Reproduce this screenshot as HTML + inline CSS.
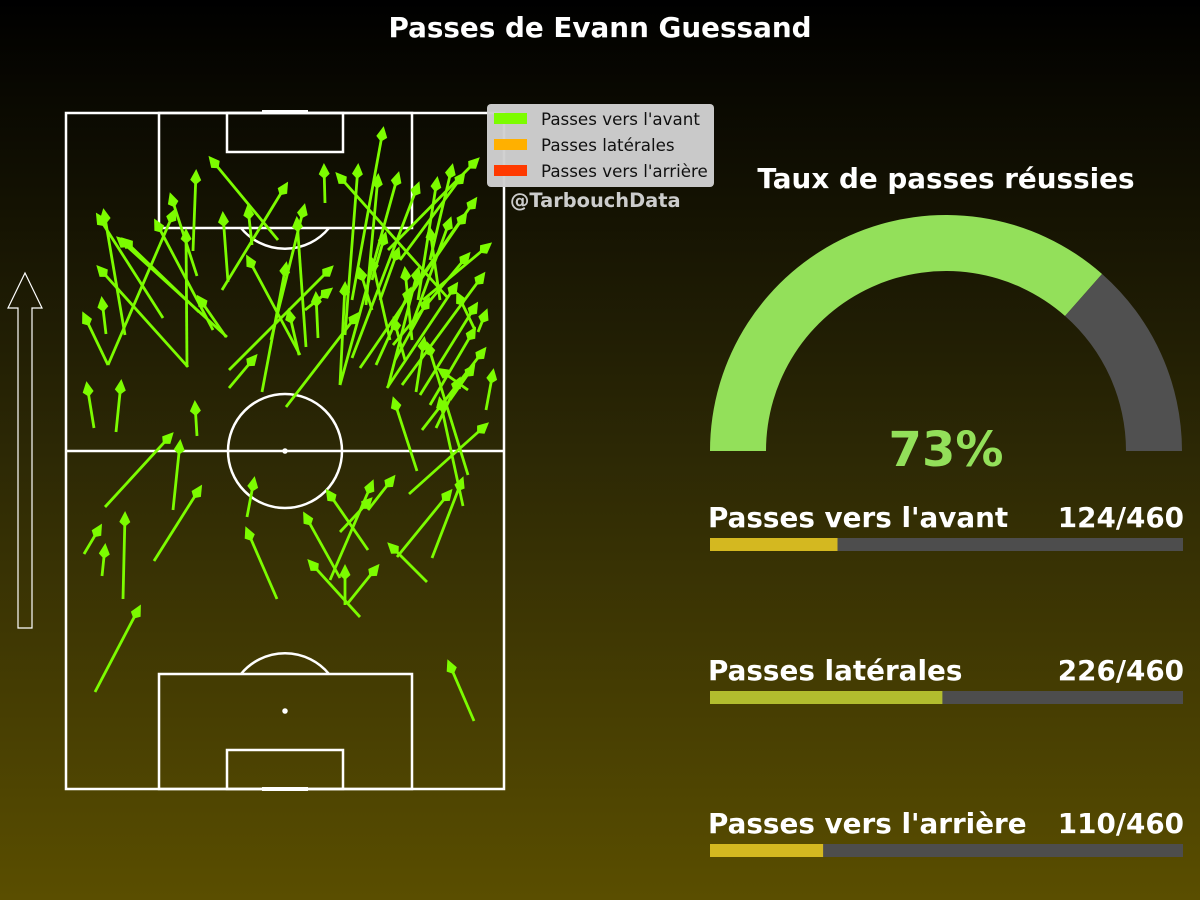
<!DOCTYPE html>
<html><head><meta charset="utf-8">
<style>
html,body{margin:0;padding:0;}
body{width:1200px;height:900px;overflow:hidden;background:linear-gradient(to bottom,#000000 0%,#2c2805 50%,#5a4e00 100%);font-family:"DejaVu Sans","Liberation Sans",sans-serif;}
svg{position:absolute;left:0;top:0;}
</style></head>
<body>
<svg id="chart" width="1200" height="900" viewBox="0 0 1200 900">
  <text x="600" y="37" text-anchor="middle" fill="#fff" font-size="27.8" font-weight="bold">Passes de Evann Guessand</text>
  <g id="pitch" fill="none" stroke="#fff" stroke-width="2.5">
    <rect x="66" y="113" width="438" height="676"/>
    <line x1="66" y1="451" x2="504" y2="451"/>
    <circle cx="285" cy="451" r="57"/>
    <circle cx="285" cy="451" r="1.5" fill="#fff"/>
    <rect x="159" y="113" width="253" height="115"/>
    <rect x="227" y="113" width="116" height="39"/>
    <path d="M241,228 A57,57 0 0 0 329,228"/>
    <line x1="262" y1="112" x2="308" y2="112" stroke-width="4"/>
    <rect x="159" y="674" width="253" height="115"/>
    <rect x="227" y="750" width="116" height="39"/>
    <path d="M241,674 A57,57 0 0 1 329,674"/>
    <circle cx="285" cy="711" r="1.5" fill="#fff"/>
    <line x1="262" y1="789" x2="308" y2="789" stroke-width="4"/>
  </g>
  <polygon points="25,273 42,308 32,308 32,628 18,628 18,308 8,308" fill="none" stroke="#fff" stroke-width="1.2"/>
  <g id="arrows"></g>
  <g>
    <rect x="487" y="104" width="227" height="83" rx="4" fill="#cfcfcf" fill-opacity="0.97"/>
    <rect x="494" y="113" width="33" height="11" fill="#7cfc00"/>
    <text x="541" y="125" font-size="16.7" fill="#111">Passes vers l'avant</text>
    <rect x="494" y="139" width="33" height="11" fill="#ffb000"/>
    <text x="541" y="151" font-size="16.7" fill="#111">Passes latérales</text>
    <rect x="494" y="165" width="33" height="11" fill="#ff3a00"/>
    <text x="541" y="177" font-size="16.7" fill="#111">Passes vers l'arrière</text>
  </g>
  <text x="510" y="207" font-size="19.4" font-weight="bold" fill="#cccccc">@TarbouchData</text>
  <text x="946" y="188" text-anchor="middle" font-size="27.8" font-weight="bold" fill="#fff">Taux de passes réussies</text>
  <g id="gauge"></g>
  <text id="pctText" x="946" y="466" text-anchor="middle" font-size="48" font-weight="bold" fill="#93e05a"></text>
  <g id="bars"></g>
</svg>
<script>
// Pass data in pitch units (origin bottom-left of pitch, y toward attacking goal)
const PITCH_W = 438, PITCH_L = 676;
const headX = [38,32,53,58,105,130,145,108,90,157,120,18,33,36,21,55,129,189,220,133,182,182,220,238,231,223,265,291,258,317,292,272,312,332,352,371,386,397,411,409,399,423,402,417,390,410,420,408,418,407,427,393,420,396,328,374,362,332,344,352,362,279,250,264,328,358,374,384,392,364,294,319,339,306,105,114,134,34,39,59,73,188,181,384,324,262,306,327,304,239,244,279,311,383];
const headY = [577,573,550,549,593,616,630,577,567,574,557,474,521,489,404,406,385,432,604,491,531,581,524,582,569,477,521,474,622,659,622,614,612,614,604,609,622,614,629,589,574,544,534,514,504,484,477,459,439,422,417,409,364,309,389,389,444,539,499,519,489,504,494,499,469,449,419,569,494,559,519,554,519,529,354,346,301,262,242,274,181,309,259,297,244,297,306,311,289,274,227,221,222,126];
const tailX = [59,97,161,133,131,127,212,42,147,162,121,42,122,40,28,50,131,163,156,160,234,186,196,205,240,233,163,220,259,286,279,381,300,274,286,352,364,334,322,346,294,357,327,336,321,354,412,364,356,384,420,370,343,366,351,397,402,314,310,322,329,274,252,239,339,350,402,344,409,374,306,306,346,324,39,107,88,18,36,57,29,181,211,331,361,302,264,302,274,274,294,279,282,408];
const tailY = [454,471,452,477,513,538,549,424,459,507,422,424,422,455,361,357,353,401,499,452,434,544,397,449,442,434,419,382,586,489,454,492,484,404,431,489,529,529,539,499,421,489,444,404,401,394,457,384,359,389,379,361,295,231,318,283,314,489,424,402,429,404,451,479,429,397,399,459,459,489,479,509,449,449,282,279,228,235,213,190,97,272,190,232,207,239,209,279,257,211,172,184,186,68];

const categories = ["Passes vers l'avant","Passes latérales","Passes vers l'arrière"];
const counts = [124,226,110];
const totalPasses = 460;
const successPct = 73;

const NS = "http://www.w3.org/2000/svg";
const px = v => 66 + v * 438 / PITCH_W;
const py = v => 789 - v * 676 / PITCH_L;

const ag = document.getElementById('arrows');
for (let i = 0; i < headX.length; i++) {
  const x1 = px(tailX[i]), y1 = py(tailY[i]), x2 = px(headX[i]), y2 = py(headY[i]);
  const dx = x2 - x1, dy = y2 - y1, L = Math.hypot(dx, dy) || 1;
  const ux = dx / L, uy = dy / L, nx = -uy, ny = ux;
  const ln = document.createElementNS(NS, 'line');
  ln.setAttribute('x1', x1); ln.setAttribute('y1', y1);
  ln.setAttribute('x2', x2 - ux * 6); ln.setAttribute('y2', y2 - uy * 6);
  ln.setAttribute('stroke', '#7cfc00'); ln.setAttribute('stroke-width', '2.8');
  
  
  ag.appendChild(ln);
  const bx = x2 - ux * 7, by = y2 - uy * 7;
  const pts = [[x2 + ux * 4, y2 + uy * 4], [bx + nx * 5.5, by + ny * 5.5], [x2 - ux * 12, y2 - uy * 12], [bx - nx * 5.5, by - ny * 5.5]];
  const hd = document.createElementNS(NS, 'polygon');
  hd.setAttribute('points', pts.map(p => p[0].toFixed(1) + ',' + p[1].toFixed(1)).join(' '));
  hd.setAttribute('fill', '#7cfc00');
  
  
  ag.appendChild(hd);
}

// Gauge
const cx = 946, cy = 451, R = 236, r = 180;
const gg = document.getElementById('gauge');
function arcPath(a0, a1) {
  const p = (rad, a) => [cx + rad * Math.cos(a), cy - rad * Math.sin(a)];
  const o0 = p(R, a0), o1 = p(R, a1), i1 = p(r, a1), i0 = p(r, a0);
  return `M${o0[0]},${o0[1]} A${R},${R} 0 0 1 ${o1[0]},${o1[1]} L${i1[0]},${i1[1]} A${r},${r} 0 0 0 ${i0[0]},${i0[1]} Z`;
}
const split = Math.PI * (1 - successPct / 100);
const g1 = document.createElementNS(NS, 'path');
g1.setAttribute('d', arcPath(Math.PI, split)); g1.setAttribute('fill', '#93e05a');


gg.appendChild(g1);
const g2 = document.createElementNS(NS, 'path');
g2.setAttribute('d', arcPath(split, 0)); g2.setAttribute('fill', '#505050');


gg.appendChild(g2);
document.getElementById('pctText').textContent = successPct + '%';

// Bars
const bg = document.getElementById('bars');
const barColors = ['#d4b820', '#b2bd2e', '#d4b820'];
const BX = 710, BW = 473;
categories.forEach((c, i) => {
  const yb = 538 + i * 153;
  const t = document.createElementNS(NS, 'text');
  t.setAttribute('x', 708); t.setAttribute('y', yb - 11);
  t.setAttribute('font-size', '27.8'); t.setAttribute('font-weight', 'bold'); t.setAttribute('fill', '#fff');
  t.textContent = c;
  
  
  bg.appendChild(t);
  const v = document.createElementNS(NS, 'text');
  v.setAttribute('x', 1184); v.setAttribute('y', yb - 11); v.setAttribute('text-anchor', 'end');
  v.setAttribute('font-size', '27.8'); v.setAttribute('font-weight', 'bold'); v.setAttribute('fill', '#fff');
  v.textContent = counts[i] + '/' + totalPasses;
  
  
  bg.appendChild(v);
  const track = document.createElementNS(NS, 'rect');
  track.setAttribute('x', BX); track.setAttribute('y', yb); track.setAttribute('width', BW); track.setAttribute('height', 13);
  track.setAttribute('fill', '#4d4d4d');
  
  
  bg.appendChild(track);
  const fill = document.createElementNS(NS, 'rect');
  fill.setAttribute('x', BX); fill.setAttribute('y', yb); fill.setAttribute('width', BW * counts[i] / totalPasses); fill.setAttribute('height', 13);
  fill.setAttribute('fill', barColors[i]);
  
  
  bg.appendChild(fill);
});
</script>
</body></html>
